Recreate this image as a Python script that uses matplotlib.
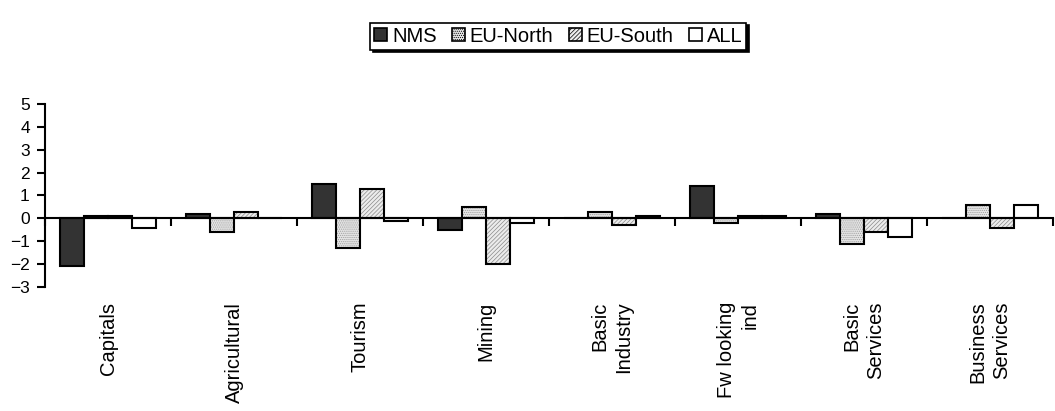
import numpy as np
import matplotlib.pyplot as plt
from matplotlib.patches import Patch

plt.rcParams['font.family'] = ['Liberation Sans', 'DejaVu Sans']
plt.rcParams['hatch.linewidth'] = 0.5

# ── Data ─────────────────────────────────────────────────────
categories = ["Capitals", "Agricultural", "Tourism", "Mining",
              "Basic\nIndustry", "Fw looking\nind", "Basic\nServices",
              "Business\nServices"]
nms      = [-2.1, 0.2, 1.5, -0.5, 0.0, 1.4, 0.2, 0.0]
eu_north = [0.1, -0.6, -1.3, 0.5, 0.3, -0.2, -1.1, 0.6]
eu_south = [0.1, 0.3, 1.3, -2.0, -0.3, 0.1, -0.6, -0.4]
all_     = [-0.4, 0.0, -0.1, -0.2, 0.1, 0.1, -0.8, 0.6]

series = [
    ("NMS",      nms,      "#333333", None,        None),
    ("EU-North", eu_north, "#e4e4e4", "........",  "#9a9a9a"),
    ("EU-South", eu_south, "#ececec", "////////",  "#8a8a8a"),
    ("ALL",      all_,     "white",   None,        None),
]

# ── Plot ─────────────────────────────────────────────────────
fig = plt.figure(figsize=(10.55, 4.11), dpi=100)
ax = fig.add_axes([0.0427, 0.3017, 0.9553, 0.4453])

x = np.arange(len(categories)) + 0.5
w = 0.19
for i, (name, vals, fc, hatch, hc) in enumerate(series):
    pos = x + (i - 1.5) * w
    if hatch:
        # texture first, then black outline on top
        ax.bar(pos, vals, width=w, color=fc, hatch=hatch, edgecolor=hc,
               linewidth=0)
        ax.bar(pos, vals, width=w, fill=False, edgecolor="black",
               linewidth=1.5)
    else:
        ax.bar(pos, vals, width=w, color=fc, edgecolor="black",
               linewidth=1.5)

ax.set_xlim(0, len(categories))
ax.set_ylim(-3, 5)
ax.set_yticks(range(-3, 6))

for s in ["top", "right"]:
    ax.spines[s].set_visible(False)
ax.spines["left"].set_linewidth(1.5)
ax.spines["bottom"].set_position(("data", 0))
ax.spines["bottom"].set_linewidth(1.5)
ax.spines["bottom"].set_zorder(3)

ax.set_xticks(x)
ax.set_xticklabels(categories, rotation=90, va="top", ha="center",
                   multialignment="right", fontsize=14.5, linespacing=1.3)
ax.set_xticks(np.arange(len(categories) + 1), minor=True)
ax.tick_params(axis="x", which="major", length=0, pad=60)
ax.tick_params(axis="x", which="minor", length=6, width=1.5, direction="out")
ax.tick_params(axis="y", length=6, width=1.5, labelsize=12.5, pad=5)

# ── Legend ───────────────────────────────────────────────────
plt.rcParams['hatch.color'] = "#888888"
leg_handles = [Patch(facecolor=fc, hatch=hatch, edgecolor="black",
                     linewidth=1.2, label=name)
               for name, _, fc, hatch, _ in series]
leg = fig.legend(handles=leg_handles, loc="center",
                 bbox_to_anchor=(0.529, 0.912), ncol=4,
                 fontsize=14.5, handlelength=0.65, handleheight=0.65,
                 handletextpad=0.25, columnspacing=0.75, borderpad=0.2,
                 fancybox=False, edgecolor="black",
                 shadow={"color": "black", "alpha": 1})
leg.get_frame().set_linewidth(1.2)

fig.savefig("out.png", dpi=100)
